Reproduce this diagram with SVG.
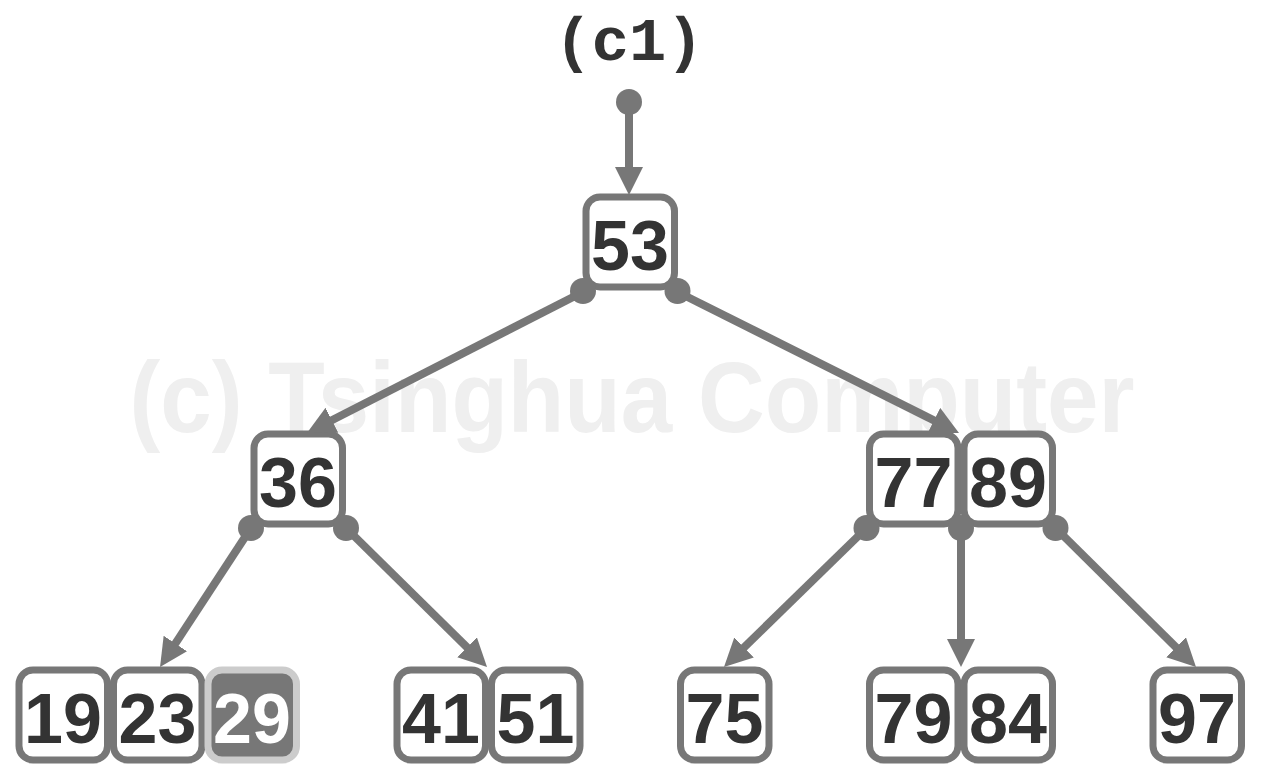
<svg xmlns="http://www.w3.org/2000/svg" width="1261" height="776" viewBox="0 0 1261 776">
<defs>
<style>
.box{fill:#fff;stroke:#777;stroke-width:7}
.hl{fill:#777;stroke:#ccc;stroke-width:7}
.num{font-family:"Liberation Sans",Arial,sans-serif;font-weight:bold;font-size:70px;fill:#333;text-anchor:middle}
.numw{fill:#fff}
.edge{stroke:#777;stroke-width:8;fill:none;marker-end:url(#ah)}
.dot{fill:#777}
</style>
<marker id="ah" markerUnits="userSpaceOnUse" markerWidth="30" markerHeight="30" refX="10" refY="14" orient="auto">
<path d="M0,0 L28,14 L0,28 Z" fill="#777"/>
</marker>
</defs>
<rect width="1261" height="776" fill="#fff"/>
<text x="632" y="432" font-family="Liberation Sans,Arial,sans-serif" font-weight="bold" font-size="100" fill="#efefef" text-anchor="middle" textLength="1005" lengthAdjust="spacingAndGlyphs">(c) Tsinghua Computer</text>
<text x="629" y="60" font-family="Liberation Mono,Courier New,monospace" font-weight="bold" font-size="62" fill="#333" text-anchor="middle">(c1)</text>

<g id="n53"><rect class="box" x="586" y="197" width="88.5" height="90" rx="14"/><text class="num" x="630" y="270">53</text></g>
<g id="n36"><rect class="box" x="254" y="434" width="88.5" height="90" rx="14"/><text class="num" x="298" y="507">36</text></g>
<g id="n77_89">
<rect class="box" x="869.5" y="434" width="88.5" height="90" rx="14"/><text class="num" x="913.5" y="507">77</text>
<rect class="box" x="964" y="434" width="88.5" height="90" rx="14"/><text class="num" x="1008" y="507">89</text>
</g>
<g id="n19_23_29">
<rect class="box" x="19" y="670" width="88.5" height="90" rx="14"/><text class="num" x="63" y="743">19</text>
<rect class="box" x="113.5" y="670" width="88.5" height="90" rx="14"/><text class="num" x="157.5" y="743">23</text>
<rect class="hl" x="208" y="670" width="88.5" height="90" rx="14"/><text class="num numw" x="252" y="743">29</text>
</g>
<g id="n41_51">
<rect class="box" x="397" y="670" width="88.5" height="90" rx="14"/><text class="num" x="441" y="743">41</text>
<rect class="box" x="491.5" y="670" width="88.5" height="90" rx="14"/><text class="num" x="535.5" y="743">51</text>
</g>
<g id="n75"><rect class="box" x="680.5" y="670" width="88.5" height="90" rx="14"/><text class="num" x="724.5" y="743">75</text></g>
<g id="n79_84">
<rect class="box" x="869.5" y="670" width="88.5" height="90" rx="14"/><text class="num" x="913.5" y="743">79</text>
<rect class="box" x="964" y="670" width="88.5" height="90" rx="14"/><text class="num" x="1008" y="743">84</text>
</g>
<g id="n97"><rect class="box" x="1153" y="670" width="88.5" height="90" rx="14"/><text class="num" x="1197" y="743">97</text></g>

<g id="connectors">
<line class="edge" x1="629" y1="102" x2="629" y2="177"/>
<line class="edge" x1="583" y1="292" x2="323" y2="424.8"/>
<line class="edge" x1="677.5" y1="292" x2="942.9" y2="424.9"/>
<line class="edge" x1="251" y1="528" x2="169.9" y2="651.9"/>
<line class="edge" x1="346" y1="528" x2="474.2" y2="654.4"/>
<line class="edge" x1="866.5" y1="528" x2="736.9" y2="654.4"/>
<line class="edge" x1="961" y1="528" x2="961" y2="649"/>
<line class="edge" x1="1055.5" y1="528" x2="1183.2" y2="654.3"/>
<circle class="dot" cx="629" cy="102" r="13"/>
<circle class="dot" cx="583" cy="291" r="13"/>
<circle class="dot" cx="677.5" cy="291" r="13"/>
<circle class="dot" cx="251" cy="528" r="13"/>
<circle class="dot" cx="346" cy="528" r="13"/>
<circle class="dot" cx="866.5" cy="528" r="13"/>
<circle class="dot" cx="961" cy="528" r="13"/>
<circle class="dot" cx="1055.5" cy="528" r="13"/>
</g>
</svg>
